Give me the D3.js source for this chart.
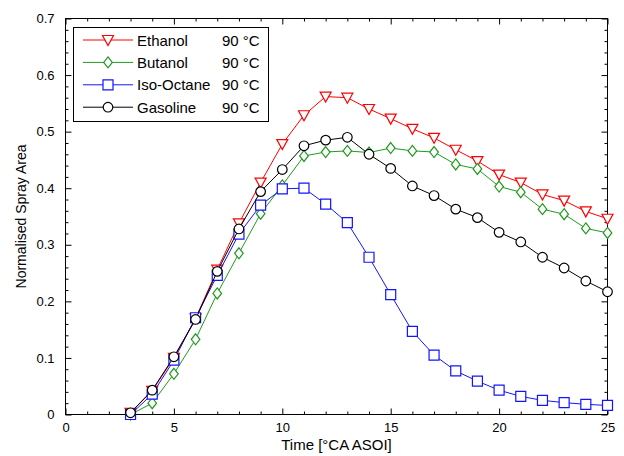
<!DOCTYPE html>
<html>
<head>
<meta charset="utf-8">
<script src="https://cdn.jsdelivr.net/npm/d3@7"></script>
<style>
  body { margin: 0; background: #fff; }
  svg text { font-family: "Liberation Sans", Arial, sans-serif; fill: #000; }
</style>
</head>
<body>
<svg id="chart" width="624" height="456"></svg>
<script>
// crank angle after start of injection
var times = [3, 4, 5, 6, 7, 8, 9, 10, 11, 12, 13, 14, 15, 16, 17, 18, 19, 20, 21, 22, 23, 24, 25];

var ethanol = [0.003, 0.042, 0.100, 0.170, 0.256, 0.338, 0.410, 0.478, 0.529, 0.562, 0.560, 0.540, 0.523,
    0.505, 0.489, 0.468, 0.448, 0.424, 0.410, 0.389, 0.378, 0.359, 0.346];
var butanol = [0.000, 0.020, 0.072, 0.133, 0.214, 0.285, 0.355, 0.405, 0.457, 0.464, 0.466, 0.463, 0.471,
    0.466, 0.464, 0.442, 0.434, 0.403, 0.393, 0.363, 0.354, 0.329, 0.321];
var isoOctane = [0.000, 0.036, 0.096, 0.171, 0.246, 0.319, 0.370, 0.399, 0.400, 0.372, 0.339, 0.278, 0.212,
    0.147, 0.105, 0.077, 0.059, 0.043, 0.032, 0.025, 0.021, 0.018, 0.016];
var gasoline = [0.003, 0.043, 0.102, 0.168, 0.253, 0.328, 0.394, 0.433, 0.475, 0.485, 0.490, 0.460, 0.435,
    0.404, 0.387, 0.363, 0.348, 0.322, 0.305, 0.278, 0.259, 0.236, 0.217];

var seriesNames = ['Ethanol', 'Butanol', 'Iso-Octane', 'Gasoline'];
var seriesTemp = ['90 °C', '90 °C', '90 °C', '90 °C'];
var xTicks = [0, 5, 10, 15, 20, 25];
var yTicks = [0, 0.1, 0.2, 0.3, 0.4, 0.5, 0.6, 0.7];

var series = [
    {name: seriesNames[0], temp: seriesTemp[0], values: ethanol, color: '#ff0000', marker: 'triangle'},
    {name: seriesNames[1], temp: seriesTemp[1], values: butanol, color: '#1f9a1f', marker: 'diamond'},
    {name: seriesNames[2], temp: seriesTemp[2], values: isoOctane, color: '#1414ff', marker: 'square'},
    {name: seriesNames[3], temp: seriesTemp[3], values: gasoline, color: '#000000', marker: 'circle'}
];

var svg = d3.select('#chart');

// plot box (window.top is reserved, so no "top" here)
var plotLeft = 65.5, plotRight = 607.5, plotTop = 18.5, plotBottom = 414.5;

var x = d3.scaleLinear().domain([0, 25]).range([plotLeft, plotRight]);
var y = d3.scaleLinear().domain([0, 0.7]).range([plotBottom, plotTop]);

// minor tick values
var xMinor = d3.range(0, 26).filter(d => d % 5 != 0);
var yMinor = d3.range(0, 36).map(d => d * 0.02).filter((d, i) => i % 5 != 0);

function drawAxis(axis, tx, ty) {
    var g = svg.append('g')
        .attr('transform', `translate(${tx},${ty})`)
        .call(axis);
    g.select('.domain').remove();
    g.selectAll('line').attr('stroke', '#000');
    return g;
}

// bottom + top
drawAxis(d3.axisBottom(x).tickValues(xTicks).tickSize(-6).tickPadding(8).tickFormat(d3.format('d')), 0, plotBottom)
    .selectAll('text').style('font-size', '13px');
drawAxis(d3.axisBottom(x).tickValues(xMinor).tickSize(-3).tickFormat(''), 0, plotBottom);
drawAxis(d3.axisTop(x).tickValues(xTicks).tickSize(-6).tickFormat(''), 0, plotTop);
drawAxis(d3.axisTop(x).tickValues(xMinor).tickSize(-3).tickFormat(''), 0, plotTop);

// left + right
drawAxis(d3.axisLeft(y).tickValues(yTicks).tickSize(-6).tickPadding(11).tickFormat(d => d == 0 ? '0' : d3.format('.1f')(d)), plotLeft, 0)
    .selectAll('text').style('font-size', '13px');
drawAxis(d3.axisLeft(y).tickValues(yMinor).tickSize(-3).tickFormat(''), plotLeft, 0);
drawAxis(d3.axisRight(y).tickValues(yTicks).tickSize(-6).tickFormat(''), plotRight, 0);
drawAxis(d3.axisRight(y).tickValues(yMinor).tickSize(-3).tickFormat(''), plotRight, 0);

svg.append('rect')
    .attr('x', plotLeft).attr('y', plotTop)
    .attr('width', plotRight - plotLeft).attr('height', plotBottom - plotTop)
    .attr('fill', 'none').attr('stroke', '#000');

// axis titles
svg.append('text')
    .attr('x', (plotLeft + plotRight) / 2)
    .attr('y', 450)
    .attr('text-anchor', 'middle')
    .style('font-size', '15px')
    .text('Time [°CA ASOI]');

svg.append('text')
    .attr('transform', `translate(21,${(plotTop + plotBottom) / 2}) rotate(-90)`)
    .attr('text-anchor', 'middle')
    .attr('dominant-baseline', 'central')
    .style('font-size', '14px')
    .text('Normalised Spray Area');

// marker shapes
function markerPath(type) {
    if (type == 'triangle') return 'M-5.5,-4.5L5.5,-4.5L0,5.5Z';
    if (type == 'diamond') return 'M0,-5.5L4.3,0L0,5.5L-4.3,0Z';
    if (type == 'square') return 'M-5,-5L5,-5L5,5L-5,5Z';
    return null;
}

function addMarker(g, type, color, cx, cy) {
    if (type == 'circle') {
        g.append('circle')
            .attr('cx', cx).attr('cy', cy).attr('r', 4.8)
            .attr('fill', '#fff').attr('stroke', color).attr('stroke-width', 1.2);
    } else {
        g.append('path')
            .attr('d', markerPath(type))
            .attr('transform', `translate(${cx},${cy})`)
            .attr('fill', '#fff').attr('stroke', color).attr('stroke-width', 1.2);
    }
}

var line = d3.line()
    .x((d, i) => x(times[i]))
    .y(d => y(d));

series.forEach(s => {
    var g = svg.append('g');
    g.append('path')
        .attr('d', line(s.values))
        .attr('fill', 'none')
        .attr('stroke', s.color)
        .attr('stroke-width', 1);
    s.values.forEach((v, i) => addMarker(g, s.marker, s.color, x(times[i]), y(v)));
});

// legend
var legend = svg.append('g');
legend.append('rect')
    .attr('x', 73.5).attr('y', 27.5)
    .attr('width', 195).attr('height', 94)
    .attr('fill', '#fff').attr('stroke', '#000');

series.forEach((s, i) => {
    var ly = 40 + i * 22.4;
    legend.append('line')
        .attr('x1', 83).attr('x2', 133)
        .attr('y1', ly).attr('y2', ly)
        .attr('stroke', s.color).attr('stroke-width', 1);
    addMarker(legend, s.marker, s.color, 108, ly);
    legend.append('text')
        .attr('x', 137).attr('y', ly)
        .attr('dominant-baseline', 'central')
        .style('font-size', '15px')
        .text(s.name);
    legend.append('text')
        .attr('x', 222).attr('y', ly)
        .attr('dominant-baseline', 'central')
        .style('font-size', '15px')
        .text(s.temp);
});
</script>
</body>
</html>
